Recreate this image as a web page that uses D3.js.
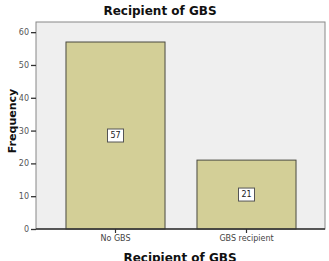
<!DOCTYPE html>
<html>
<head>
<meta charset="utf-8">
<script src="https://cdn.jsdelivr.net/npm/d3@7"></script>
<style>
  body { margin: 0; background: #fff; }
  svg { display: block; }
  text { font-family: "DejaVu Sans", sans-serif; }
</style>
</head>
<body>
<svg id="chart" width="329" height="261"></svg>
<script>
var categories = ["No GBS", "GBS recipient"];
var counts = [57, 21];
var yTicks = [0, 10, 20, 30, 40, 50, 60];

var svg = d3.select("#chart");

// plot frame
var frame = {left: 36, right: 325, top: 22, bottom: 229};

var y = d3.scaleLinear()
    .domain([0, 63.1])
    .range([frame.bottom, frame.top]);

var x = d3.scaleBand()
    .domain(categories)
    .range([50, 312])
    .paddingInner(0.244)
    .paddingOuter(0.122);

svg.append("rect")
    .attr("x", frame.left)
    .attr("y", frame.top)
    .attr("width", frame.right - frame.left)
    .attr("height", frame.bottom - frame.top)
    .style("fill", "#efefef")
    .style("stroke", "#888")
    .style("stroke-width", 1);

// bars
svg.selectAll("rect.bar")
    .data(counts)
    .enter()
    .append("rect")
    .attr("class", "bar")
    .attr("x", function(d, i) { return x(categories[i]); })
    .attr("y", function(d) { return y(d); })
    .attr("width", x.bandwidth())
    .attr("height", function(d) { return y(0) - y(d); })
    .style("fill", "#d3cf97")
    .style("stroke", "#4a4a40")
    .style("stroke-width", 1);

// value labels in white boxes
var labels = svg.selectAll("g.vlabel")
    .data(counts)
    .enter()
    .append("g")
    .attr("class", "vlabel")
    .attr("transform", function(d, i) {
        return "translate(" + (x(categories[i]) + x.bandwidth() / 2) + "," + ((y(d) + y(0)) / 2) + ")";
    });
labels.append("rect")
    .attr("x", -8)
    .attr("y", -6.5)
    .attr("width", 16)
    .attr("height", 13)
    .style("fill", "#fff")
    .style("stroke", "#555")
    .style("stroke-width", 1);
labels.append("text")
    .attr("text-anchor", "middle")
    .attr("dy", "0.35em")
    .style("font-size", "8px")
    .style("fill", "#222")
    .text(function(d) { return d; });

// y axis
var yAxis = d3.axisLeft(y)
    .tickValues(yTicks)
    .tickSize(5)
    .tickPadding(2);
var gy = svg.append("g")
    .attr("transform", "translate(" + frame.left + ",0)")
    .call(yAxis);
gy.select(".domain").remove();
gy.selectAll(".tick line").style("stroke", "#333").style("stroke-width", 1.3);
gy.selectAll(".tick text")
    .style("font-size", "8px")
    .style("fill", "#555")
    .style("font-family", "DejaVu Sans, sans-serif");

// x axis
var xAxis = d3.axisBottom(x)
    .tickSize(4)
    .tickPadding(2);
var gx = svg.append("g")
    .attr("transform", "translate(0," + frame.bottom + ")")
    .call(xAxis);
gx.select(".domain").remove();
gx.selectAll(".tick line").style("stroke", "#333").style("stroke-width", 1.2);
gx.selectAll(".tick text")
    .style("font-size", "8px")
    .style("fill", "#444")
    .style("font-family", "DejaVu Sans, sans-serif");

// baseline
svg.append("line")
    .attr("x1", frame.left)
    .attr("x2", frame.right)
    .attr("y1", y(0))
    .attr("y2", y(0))
    .style("stroke", "#333")
    .style("stroke-width", 1.3);

// titles
svg.append("text")
    .attr("x", 160)
    .attr("y", 15)
    .attr("text-anchor", "middle")
    .style("font-size", "12px")
    .style("font-weight", "bold")
    .style("fill", "#111")
    .text("Recipient of GBS");

// bottom title is cut by the edge in the reference too
svg.append("text")
    .attr("x", 180)
    .attr("y", 262)
    .attr("text-anchor", "middle")
    .style("font-size", "12px")
    .style("font-weight", "bold")
    .style("fill", "#111")
    .text("Recipient of GBS");

svg.append("text")
    .attr("transform", "translate(16,121) rotate(-90)")
    .attr("text-anchor", "middle")
    .style("font-size", "11px")
    .style("font-weight", "bold")
    .style("fill", "#111")
    .text("Frequency");
</script>
</body>
</html>
